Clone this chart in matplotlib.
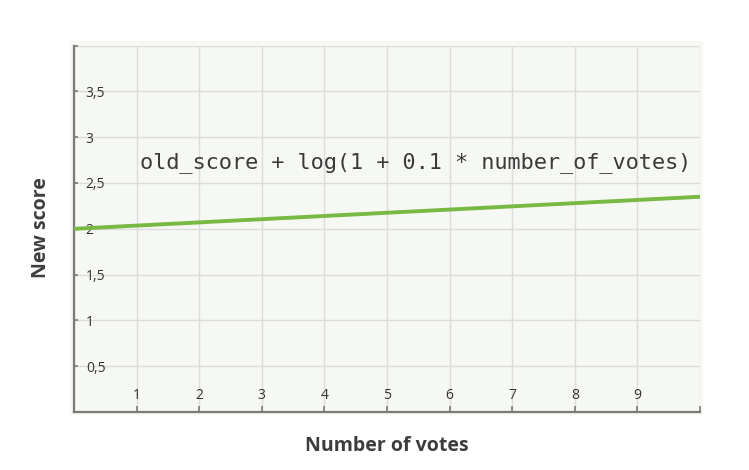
import matplotlib
matplotlib.use("Agg")
import matplotlib.pyplot as plt
from matplotlib.patches import Rectangle

# Data
votes = [0, 2, 4, 6, 8, 10]
new_score = [2.00, 2.07, 2.14, 2.21, 2.28, 2.35]
x_ticks = [0, 1, 2, 3, 4, 5, 6, 7, 8, 9, 10]
x_tick_labels = ["", "1", "2", "3", "4", "5", "6", "7", "8", "9", ""]
y_ticks = [0, 0.5, 1, 1.5, 2, 2.5, 3, 3.5, 4]
y_tick_labels = ["", "0,5", "1", "1,5", "2", "2,5", "3", "3,5", ""]
formula = "old_score + log(1 + 0.1 * number_of_votes)"

W, H = 749, 470
fig = plt.figure(figsize=(W / 100, H / 100), dpi=100)
fig.patch.set_facecolor("white")

bg = "#f6f8f4"
# panel background slightly larger than the axes
rect = Rectangle((70 / W, 1 - 415 / H), (703 - 70) / W, (415 - 41) / H,
                 transform=fig.transFigure, facecolor=bg, edgecolor="none",
                 zorder=-10)
fig.add_artist(rect)

ax = fig.add_axes([74 / W, 1 - 412 / H, (700 - 74) / W, (412 - 45.6) / H])
ax.set_zorder(1)
ax.set_facecolor(bg)
ax.set_xlim(0, 10)
ax.set_ylim(0, 4)

ax.set_xticks(x_ticks)
ax.set_xticklabels(x_tick_labels)
ax.set_yticks(y_ticks)
ax.set_yticklabels(y_tick_labels)

ax.grid(True, color="#dcdcdc", linewidth=1.0, zorder=1)
ax.set_axisbelow(True)

for s in ["top", "right"]:
    ax.spines[s].set_visible(False)
for s in ["left", "bottom"]:
    ax.spines[s].set_color("#7a7a7a")
    ax.spines[s].set_linewidth(1.6)

ax.tick_params(axis="y", direction="in", length=3, width=1.2, color="#7a7a7a",
               pad=-8.5, labelcolor="#333333", labelsize=10)
ax.tick_params(axis="x", direction="in", length=4, width=1.2, color="#7a7a7a",
               pad=-6.5, labelcolor="#333333", labelsize=10)
for lab in ax.get_yticklabels():
    lab.set_horizontalalignment("left")
    lab.set_family("Open Sans")
for lab in ax.get_xticklabels():
    lab.set_verticalalignment("bottom")
    lab.set_family("Open Sans")

ax.plot(votes, new_score, color="#78b943", linewidth=2.8, solid_capstyle="butt",
        zorder=3, clip_on=False)

ax.text(1.05, 2.72, formula, family="DejaVu Sans Mono", fontsize=15.75,
        color="#3a3a3a", ha="left", va="center")

ax.set_xlabel("Number of votes", family="Open Sans", fontweight="bold",
              fontsize=14, color="#3d3d3d", labelpad=17)
fig.text(41 / W, 1 - 228 / H, "New score", family="Open Sans", fontweight="bold",
         fontsize=14, color="#3d3d3d", rotation=90, ha="center", va="center")

fig.savefig("out.png", dpi=100, facecolor="white")
